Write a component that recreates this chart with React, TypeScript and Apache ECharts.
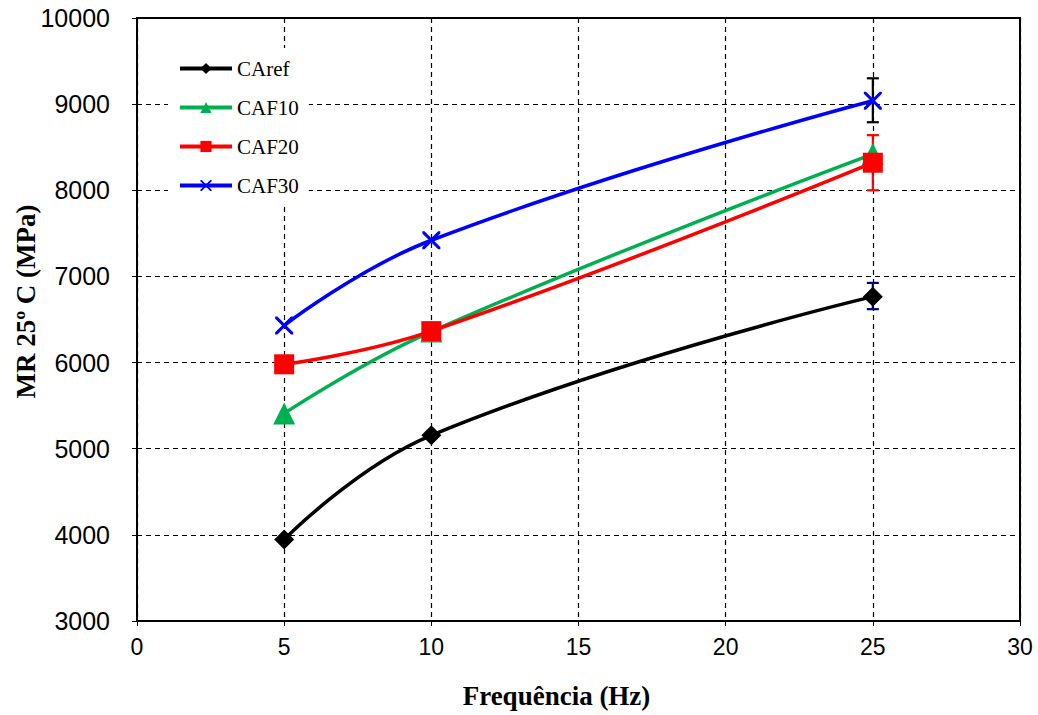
import React, { useEffect, useRef } from "react";
import * as echarts from "echarts";

const frequencies = [5, 10, 25];
const caRef = [3945, 5155, 6765];
const caf10 = [5410, 6360, 8420];
const caf20 = [5980, 6365, 8320];
const caf30 = [6430, 7420, 9040];

const errX = [25, 25, 25];
const errLow = [6620, 8000, 8790];
const errHigh = [6925, 8640, 9300];
const errColors = ["#000080", "#ff0000", "#000000"];

const xTicks = { min: 0, max: 30, interval: 5 };
const yTicks = { min: 3000, max: 10000, interval: 1000 };

const crossPath =
  "path://M0,0 L1.2,0 L5,3.8 L8.8,0 L10,0 L10,1.2 L6.2,5 L10,8.8 L10,10 L8.8,10 L5,6.2 L1.2,10 L0,10 L0,8.8 L3.8,5 L0,1.2 Z";

export default function App() {
  const ref = useRef<HTMLDivElement>(null);
  useEffect(() => {
    if (!ref.current) return;
    document.body.style.margin = "0";
    document.body.style.overflow = "hidden";
    const chart = echarts.init(ref.current, null, { renderer: "svg" });
    const pair = (ys: number[]) => frequencies.map((f, i) => [f, ys[i]]);
    const lineSeries = (name: string, ys: number[], color: string, symbol: string, size: number) => ({
      name,
      type: "line",
      data: pair(ys),
      smooth: 0.45,
      symbol,
      symbolSize: size,
      lineStyle: { color, width: 3.5 },
      itemStyle: { color },
      z: 3,
    });
    chart.setOption({
      animation: false,
      backgroundColor: "#fff",
      grid: {
        left: 137,
        right: 18,
        top: 18,
        bottom: 94,
        show: true,
        borderColor: "#000",
        borderWidth: 2,
        outerBoundsMode: "none",
        containLabel: false,
      },
      legend: {
        orient: "vertical",
        left: 168,
        top: 48,
        padding: [10, 10, 10, 10],
        backgroundColor: "#fff",
        itemWidth: 52,
        itemHeight: 14,
        itemGap: 18,
        lineStyle: { width: 4 },
        textStyle: { fontFamily: "Liberation Serif", fontSize: 21, color: "#000" },
        data: ["CAref", "CAF10", "CAF20", "CAF30"],
      },
      xAxis: {
        type: "value",
        min: xTicks.min,
        max: xTicks.max,
        interval: xTicks.interval,
        name: "Frequência (Hz)",
        nameLocation: "middle",
        nameGap: 61,
        nameMoveOverlap: false,
        nameTextStyle: {
          fontFamily: "Liberation Serif",
          fontWeight: "bold",
          fontSize: 27,
          color: "#000",
          padding: [0, 44, 0, 0],
        },
        axisLine: { lineStyle: { color: "#000", width: 2 } },
        axisTick: { show: true, length: 5, lineStyle: { color: "#000" } },
        axisLabel: { fontFamily: "Liberation Sans", fontSize: 23, color: "#000", margin: 14 },
        splitLine: { show: true, lineStyle: { color: "#000", type: [5, 4], width: 1.2 } },
      },
      yAxis: {
        type: "value",
        min: yTicks.min,
        max: yTicks.max,
        interval: yTicks.interval,
        name: "MR 25º C (MPa)",
        nameLocation: "middle",
        nameGap: 98,
        nameMoveOverlap: false,
        nameTextStyle: {
          fontFamily: "Liberation Serif",
          fontWeight: "bold",
          fontSize: 27,
          color: "#000",
          padding: [0, 0, 0, 36],
        },
        axisLine: { lineStyle: { color: "#000", width: 2 } },
        axisTick: { show: true, length: 5, lineStyle: { color: "#000" } },
        axisLabel: {
          fontFamily: "Liberation Sans",
          fontSize: 25,
          color: "#000",
          margin: 27,
          formatter: (v: number) => String(v),
        },
        splitLine: { show: true, lineStyle: { color: "#000", type: [5, 4], width: 1.2 } },
      },
      series: [
        {
          type: "custom",
          name: "err",
          z: 2,
          data: errX.map((x, i) => [x, errLow[i], errHigh[i], i]),
          renderItem: (params: any, api: any) => {
            const x = api.value(0);
            const lo = api.coord([x, api.value(1)]);
            const hi = api.coord([x, api.value(2)]);
            const c = errColors[api.value(3)];
            const w = 6;
            const style = { stroke: c, lineWidth: 2.2 };
            return {
              type: "group",
              children: [
                { type: "line", shape: { x1: lo[0], y1: lo[1], x2: hi[0], y2: hi[1] }, style },
                { type: "line", shape: { x1: lo[0] - w, y1: lo[1], x2: lo[0] + w, y2: lo[1] }, style },
                { type: "line", shape: { x1: hi[0] - w, y1: hi[1], x2: hi[0] + w, y2: hi[1] }, style },
              ],
            };
          },
        },
        lineSeries("CAref", caRef, "#000000", "diamond", 20),
        lineSeries("CAF10", caf10, "#00b050", "triangle", 22),
        lineSeries("CAF20", caf20, "#ff0000", "rect", 20),
        lineSeries("CAF30", caf30, "#0000ff", crossPath, 18),
      ],
    });
    return () => chart.dispose();
  }, []);
  return <div ref={ref} style={{ width: 1038, height: 715, overflow: "hidden" }} />;
}
